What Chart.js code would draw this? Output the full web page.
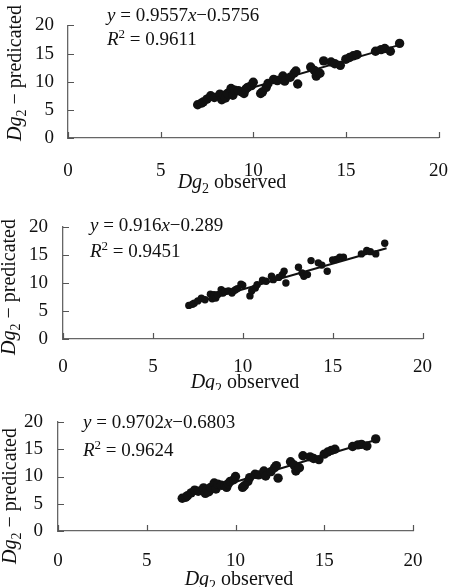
<!DOCTYPE html>
<html>
<head>
<meta charset="utf-8">
<script src="https://cdn.jsdelivr.net/npm/chart.js@4.4.0/dist/chart.umd.min.js"></script>
<style>
  html, body { margin: 0; padding: 0; background: #fff; overflow: hidden; }
  body { width: 449px; height: 587px; position: relative; }
  canvas { position: absolute; left: 0; }
</style>
</head>
<body>
<canvas id="c1" width="470" height="195" style="top:0px"></canvas>
<canvas id="c2" width="449" height="195" style="top:195px"></canvas>
<canvas id="c3" width="449" height="197" style="top:390px"></canvas>
<script>
// Dg2 observed (same samples in all three panels)
const observed = [7.0, 7.2, 7.3, 7.5, 7.7, 7.9, 8.2, 8.3, 8.4, 8.5, 8.6, 8.8, 8.9, 9.0, 9.2, 9.4, 9.5, 9.6, 9.7, 9.9,
  10.0, 10.4, 10.5, 10.7, 10.8, 11.1, 11.3, 11.6, 11.7, 12.0, 12.2, 12.3, 12.4, 13.1, 13.3, 13.4, 13.6, 13.8, 14.2, 14.4,
  14.7, 15.0, 15.2, 15.4, 15.6, 16.6, 16.9, 17.1, 17.4, 17.9];

// Dg2 predicated, one array per model
const predicted1 = [5.9, 6.2, 6.4, 6.9, 7.5, 7.2, 7.8, 6.8, 7.5, 7.1, 7.9, 8.8, 7.6, 8.5, 8.4, 8.2, 7.9, 8.7, 9.0, 9.3,
  9.9, 7.9, 8.2, 9.0, 9.7, 10.4, 10.2, 11.0, 10.1, 10.8, 11.5, 11.9, 9.6, 12.6, 12.0, 11.0, 11.5, 13.7, 13.5, 13.2,
  12.9, 14.0, 14.3, 14.6, 14.8, 15.4, 15.7, 15.9, 15.4, 16.8];
const predicted2 = [6.0, 6.2, 6.4, 6.8, 7.3, 7.0, 8.0, 7.2, 7.9, 7.3, 7.9, 8.8, 8.2, 8.5, 8.6, 8.2, 8.6, 8.8, 9.0, 9.8,
  9.6, 7.7, 8.6, 9.1, 9.7, 10.5, 10.3, 11.2, 10.6, 11.0, 11.5, 12.1, 10.0, 12.8, 11.8, 11.2, 11.5, 14.0, 13.6, 13.2,
  12.1, 14.1, 14.2, 14.6, 14.6, 15.2, 15.8, 15.6, 15.2, 17.1];
const predicted3 = [6.0, 6.2, 6.5, 7.0, 7.5, 7.3, 7.9, 6.9, 7.6, 7.2, 8.0, 8.8, 7.7, 8.6, 8.4, 8.3, 8.0, 8.7, 9.1, 9.4,
  10.0, 8.0, 8.3, 9.1, 9.8, 10.4, 10.3, 11.0, 10.1, 10.9, 11.6, 12.0, 9.7, 12.7, 12.1, 11.0, 11.6, 13.8, 13.6, 13.3,
  13.1, 14.1, 14.5, 14.8, 15.0, 15.5, 15.8, 15.9, 15.6, 16.9];

// trend lines
const slopes = [0.9557, 0.916, 0.9702];
const intercepts = [-0.5756, -0.289, -0.6803];
const rSquared = [0.9611, 0.9451, 0.9624];
const fitRange = [7, 18];

// axis ticks
const tickValues = [0, 5, 10, 15, 20];

const SERIF = '"Liberation Serif", "DejaVu Serif", serif';
const INK = '#111';

function segFont(s, size) {
  const sz = (s.sub || s.sup) ? Math.round(size * 0.68) : size;
  return (s.it ? 'italic ' : '') + sz + 'px ' + SERIF;
}

// draws text pieces with italics / sub / superscripts, y is the baseline
function drawRich(ctx, segs, x, y, size, align) {
  ctx.save();
  ctx.textBaseline = 'alphabetic';
  ctx.textAlign = 'left';
  let total = 0;
  segs.forEach(s => { ctx.font = segFont(s, size); total += ctx.measureText(s.t).width; });
  let cx = align === 'center' ? x - total / 2 : x;
  segs.forEach(s => {
    ctx.font = segFont(s, size);
    let dy = 0;
    if (s.sub) dy = size * 0.25;
    if (s.sup) dy = -size * 0.38;
    ctx.fillText(s.t, cx, y + dy);
    cx += ctx.measureText(s.t).width;
  });
  ctx.restore();
}

const panels = [
  { id: 'c1', w: 470, h: 195, area: { left: 68, right: 443, top: 17, bottom: 138 }, y: predicted1, r: 4.7,
    padX: 22, padY: 14, xTitle: { x: 232, y: 188 }, yTitle: { x: 21, y: 73 }, eq: { x: 107, y: 21, y2: 45 } },
  { id: 'c2', w: 449, h: 195, area: { left: 63, right: 428, top: 32, bottom: 144 }, y: predicted2, r: 3.7,
    padX: 17, padY: 15, xTitle: { x: 245, y: 193 }, yTitle: { x: 15, y: 92 }, eq: { x: 90, y: 36, y2: 62 } },
  { id: 'c3', w: 449, h: 197, area: { left: 58, right: 413, top: 32, bottom: 141 }, y: predicted3, r: 4.7,
    padX: 19, padY: 15, xTitle: { x: 239, y: 195 }, yTitle: { x: 16, y: 106 }, eq: { x: 83, y: 38, y2: 66 } }
];

panels.forEach((p, i) => {
  const ctx = document.getElementById(p.id).getContext('2d');
  const pts = observed.map((v, k) => ({ x: v, y: p.y[k] }));
  const fit = fitRange.map(v => ({ x: v, y: slopes[i] * v + intercepts[i] }));

  const labelsPlugin = {
    id: 'labels' + i,
    afterDraw(chart) {
      const c = chart.ctx;
      const xs = chart.scales.x, ys = chart.scales.y;
      const a = chart.chartArea;
      // inward tick marks
      c.save();
      c.strokeStyle = '#555';
      c.lineWidth = 1.2;
      c.beginPath();
      tickValues.forEach(v => {
        const px = Math.round(xs.getPixelForValue(v)) + 0.5;
        c.moveTo(px, a.bottom); c.lineTo(px, a.bottom - 6);
        const py = Math.round(ys.getPixelForValue(v)) + 0.5;
        c.moveTo(a.left, py); c.lineTo(a.left + 6, py);
      });
      c.stroke();
      c.restore();

      c.fillStyle = INK;
      // x title
      drawRich(c, [{ t: 'D', it: true }, { t: 'g', it: true }, { t: '2', sub: true }, { t: ' observed' }],
        p.xTitle.x, p.xTitle.y, 20, 'center');
      // y title
      c.save();
      c.translate(p.yTitle.x, p.yTitle.y);
      c.rotate(-Math.PI / 2);
      c.fillStyle = INK;
      drawRich(c, [{ t: 'D', it: true }, { t: 'g', it: true }, { t: '2', sub: true }, { t: ' \u2212 predicated' }],
        0, 0, 20, 'center');
      c.restore();
      // equation and R2
      c.fillStyle = INK;
      drawRich(c, [{ t: 'y', it: true }, { t: ' = ' + slopes[i] }, { t: 'x', it: true },
        { t: '\u2212' + Math.abs(intercepts[i]) }], p.eq.x, p.eq.y, 19, 'left');
      drawRich(c, [{ t: 'R', it: true }, { t: '2', sup: true }, { t: ' = ' + rSquared[i] }],
        p.eq.x, p.eq.y2, 19, 'left');
    }
  };

  new Chart(ctx, {
    type: 'scatter',
    data: {
      datasets: [
        {
          data: pts,
          backgroundColor: '#111',
          borderWidth: 0,
          pointRadius: p.r,
          pointHoverRadius: p.r
        },
        {
          type: 'line',
          data: fit,
          borderColor: '#111',
          borderWidth: 2,
          pointRadius: 0,
          tension: 0,
          fill: false
        }
      ]
    },
    options: {
      responsive: false,
      animation: false,
      events: [],
      layout: {
        padding: { left: 0, top: p.area.top, right: p.w - p.area.right, bottom: 0 }
      },
      plugins: { legend: { display: false }, tooltip: { enabled: false } },
      scales: {
        x: {
          type: 'linear',
          min: 0, max: 20,
          afterBuildTicks(s) { s.ticks = tickValues.map(v => ({ value: v })); },
          afterFit(s) { s.height = p.h - p.area.bottom; },
          grid: { display: false, drawTicks: false },
          border: { display: true, color: '#666', width: 1.3 },
          ticks: { color: INK, padding: p.padX, font: { family: SERIF, size: 19 }, maxRotation: 0 }
        },
        y: {
          type: 'linear',
          min: 0, max: 20,
          afterBuildTicks(s) { s.ticks = tickValues.map(v => ({ value: v })); },
          afterFit(s) { s.width = p.area.left; },
          grid: { display: false, drawTicks: false },
          border: { display: true, color: '#666', width: 1.3 },
          ticks: { color: INK, padding: p.padY, font: { family: SERIF, size: 19 } }
        }
      }
    },
    plugins: [labelsPlugin]
  });
});
</script>
</body>
</html>
